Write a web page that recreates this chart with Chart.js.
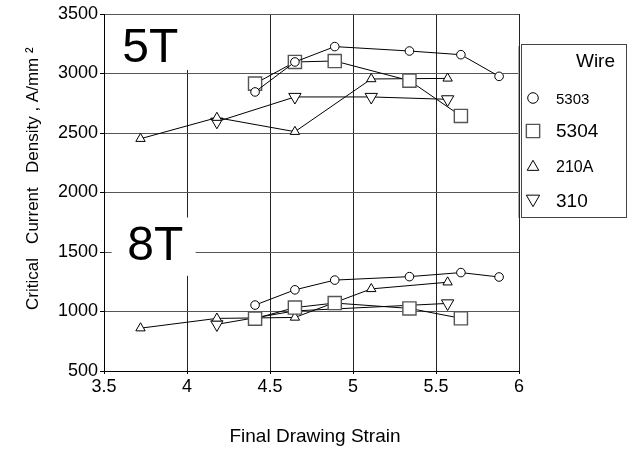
<!DOCTYPE html>
<html>
<head>
<meta charset="utf-8">
<script src="https://cdn.jsdelivr.net/npm/chart.js"></script>
<style>
    html, body { margin: 0; padding: 0; background: #fff; }
    #caixa { width: 629px; height: 449px; position: relative; }
</style>
</head>
<body>
<div id="caixa"><canvas id="grafico"></canvas></div>
<script>
    var FONTE = "'Liberation Sans', Arial, sans-serif";

    // Dados (deformação final x densidade de corrente crítica)
    var fios = ['5303', '5304', '210A', '310'];
    var campos = ['5T', '8T'];

    var deformacao5303 = [4.41, 4.65, 4.89, 5.34, 5.65, 5.88];
    var jc5303_5T = [2845, 3097, 3226, 3189, 3158, 2976];
    var jc5303_8T = [1054, 1182, 1264, 1293, 1327, 1290];

    var deformacao5304 = [4.41, 4.65, 4.89, 5.34, 5.65];
    var jc5304_5T = [2915, 3097, 3105, 2940, 2643];
    var jc5304_8T = [940, 1033, 1071, 1026, 943];

    var deformacao210A = [3.72, 4.18, 4.65, 5.11, 5.57];
    var jc210A_5T = [2452, 2629, 2511, 2954, 2959];
    var jc210A_8T = [860, 942, 950, 1190, 1246];

    var deformacao310_5T = [4.18, 4.65, 5.11, 5.57];
    var jc310_5T = [2595, 2803, 2803, 2783];
    var deformacao310_8T = [4.18, 4.65, 5.57];
    var jc310_8T = [892, 1005, 1068];

    var ticksX = [3.5, 4, 4.5, 5, 5.5, 6];
    var rotulosX = ['3.5', '4', '4.5', '5', '5.5', '6'];
    var ticksY = [500, 1000, 1500, 2000, 2500, 3000, 3500];
    var rotulosY = ['500', '1000', '1500', '2000', '2500', '3000', '3500'];

    var tituloX = 'Final Drawing Strain';
    var tituloY = 'Critical   Current   Density , A/mm \u00B2';
    var tituloLegenda = 'Wire';

    // Estilo dos marcadores de cada fio
    var estilos = {
        '5303': { pointStyle: 'circle', radius: 4.3, rotation: 0, cor: '#000', borda: 1, raioLegenda: 5.3, fonteLegenda: 15 },
        '5304': { pointStyle: 'rect', radius: 9.3, rotation: 0, cor: '#555', borda: 1.4, raioLegenda: 9.4, fonteLegenda: 19 },
        '210A': { pointStyle: 'triangle', radius: 5.4, rotation: 0, cor: '#000', borda: 1, raioLegenda: 6.7, fonteLegenda: 16 },
        '310': { pointStyle: 'triangle', radius: 7.1, rotation: 180, cor: '#000', borda: 1, raioLegenda: 7.7, fonteLegenda: 19 }
    };

    function serie(xs, ys) {
        return xs.map(function(v, i) { return { x: v, y: ys[i] }; });
    }

    var series = [
        ['5303', deformacao5303, jc5303_5T], ['5303', deformacao5303, jc5303_8T],
        ['5304', deformacao5304, jc5304_5T], ['5304', deformacao5304, jc5304_8T],
        ['210A', deformacao210A, jc210A_5T], ['210A', deformacao210A, jc210A_8T],
        ['310', deformacao310_5T, jc310_5T], ['310', deformacao310_8T, jc310_8T]
    ];

    var datasets = series.map(function(s) {
        var e = estilos[s[0]];
        return {
            label: s[0],
            data: serie(s[1], s[2]),
            showLine: true,
            borderColor: '#000',
            borderWidth: 1,
            pointStyle: e.pointStyle,
            pointRadius: e.radius,
            pointRotation: e.rotation,
            pointBackgroundColor: '#fff',
            pointBorderColor: e.cor,
            pointBorderWidth: e.borda,
            tension: 0
        };
    });

    // Caixas brancas com "5T" e "8T" por cima da grade
    var rotulosCampo = {
        id: 'rotulosCampo',
        beforeDatasetsDraw: function(chart) {
            var ctx = chart.ctx;
            var sx = chart.scales.x, sy = chart.scales.y;
            ctx.save();
            ctx.fillStyle = '#fff';
            ctx.fillRect(sx.left + 1, sy.top + 1, sx.getPixelForValue(4.02) - sx.left - 1, sy.getPixelForValue(3030) - sy.top - 1);
            ctx.fillRect(sx.getPixelForValue(3.546), sy.getPixelForValue(1790),
                sx.getPixelForValue(4.052) - sx.getPixelForValue(3.546), sy.getPixelForValue(1300) - sy.getPixelForValue(1790));
            ctx.fillStyle = '#000';
            ctx.font = '48px ' + FONTE;
            ctx.textAlign = 'left';
            ctx.textBaseline = 'alphabetic';
            ctx.fillText(campos[0], sx.getPixelForValue(3.61), sy.getPixelForValue(3097));
            ctx.fillText(campos[1], sx.getPixelForValue(3.64), sy.getPixelForValue(1433));
            ctx.restore();
        }
    };

    // Legenda e títulos dos eixos
    var legendaFio = {
        id: 'legendaFio',
        afterDraw: function(chart) {
            var ctx = chart.ctx;
            var area = chart.chartArea;
            ctx.save();

            // título do eixo X
            ctx.fillStyle = '#000';
            ctx.font = '19px ' + FONTE;
            ctx.textAlign = 'center';
            ctx.textBaseline = 'alphabetic';
            ctx.fillText(tituloX, 315, 442);

            // título do eixo Y
            ctx.save();
            ctx.font = '17px ' + FONTE;
            ctx.translate(38, 310);
            ctx.rotate(-Math.PI / 2);
            ctx.textAlign = 'left';
            ctx.fillText(tituloY, 0, 0);
            ctx.restore();

            // caixa da legenda
            var esq = area.right + 2;
            ctx.fillStyle = '#fff';
            ctx.fillRect(esq, 44, 105, 173);
            ctx.strokeStyle = '#aaa';
            ctx.lineWidth = 1;
            ctx.beginPath();
            ctx.moveTo(esq - 2.5, 46);
            ctx.lineTo(esq - 2.5, 218);
            ctx.stroke();
            ctx.strokeStyle = '#444';
            ctx.strokeRect(esq + 0.5, 44.5, 105, 173);

            ctx.fillStyle = '#000';
            ctx.textBaseline = 'alphabetic';
            ctx.textAlign = 'right';
            ctx.font = '19px ' + FONTE;
            ctx.fillText(tituloLegenda, esq + 94, 67);

            var centros = [98, 131, 167, 199];
            var bases = [104, 137, 172, 207];
            ctx.textAlign = 'left';
            fios.forEach(function(f, i) {
                var e = estilos[f];
                ctx.fillStyle = '#fff';
                ctx.strokeStyle = e.cor;
                ctx.lineWidth = e.borda;
                Chart.helpers.drawPoint(ctx, {
                    pointStyle: e.pointStyle, radius: e.raioLegenda, rotation: e.rotation, borderWidth: e.borda
                }, esq + 12, centros[i]);
                ctx.fillStyle = '#000';
                ctx.font = e.fonteLegenda + 'px ' + FONTE;
                ctx.fillText(f, esq + 35, bases[i]);
            });
            ctx.restore();
        }
    };

    new Chart(document.getElementById('grafico'), {
        type: 'scatter',
        data: { datasets: datasets },
        options: {
            responsive: true,
            maintainAspectRatio: false,
            animation: false,
            devicePixelRatio: 1,
            layout: { padding: { left: 0, top: 14, right: 110, bottom: 0 } },
            plugins: { legend: { display: false }, tooltip: { enabled: false } },
            scales: {
                x: {
                    type: 'linear',
                    min: 3.5, max: 6,
                    afterBuildTicks: function(s) { s.ticks = ticksX.map(function(v) { return { value: v }; }); },
                    afterFit: function(s) { s.height = 78; },
                    grid: { color: '#222', tickColor: '#000', tickLength: 3 },
                    border: { color: '#000', width: 1 },
                    ticks: {
                        color: '#000', padding: 2, maxRotation: 0,
                        font: { family: FONTE, size: 18 },
                        callback: function(v) { return rotulosX[ticksX.indexOf(v)]; }
                    }
                },
                y: {
                    type: 'linear',
                    min: 500, max: 3500,
                    afterBuildTicks: function(s) { s.ticks = ticksY.map(function(v) { return { value: v }; }); },
                    afterFit: function(s) { s.width = 104; },
                    grid: { color: '#555', tickColor: '#000', tickLength: 4 },
                    border: { color: '#000', width: 1 },
                    ticks: {
                        color: '#000', padding: 2,
                        font: { family: FONTE, size: 18 },
                        callback: function(v) { return rotulosY[ticksY.indexOf(v)]; }
                    }
                }
            }
        },
        plugins: [rotulosCampo, legendaFio]
    });
</script>
</body>
</html>
